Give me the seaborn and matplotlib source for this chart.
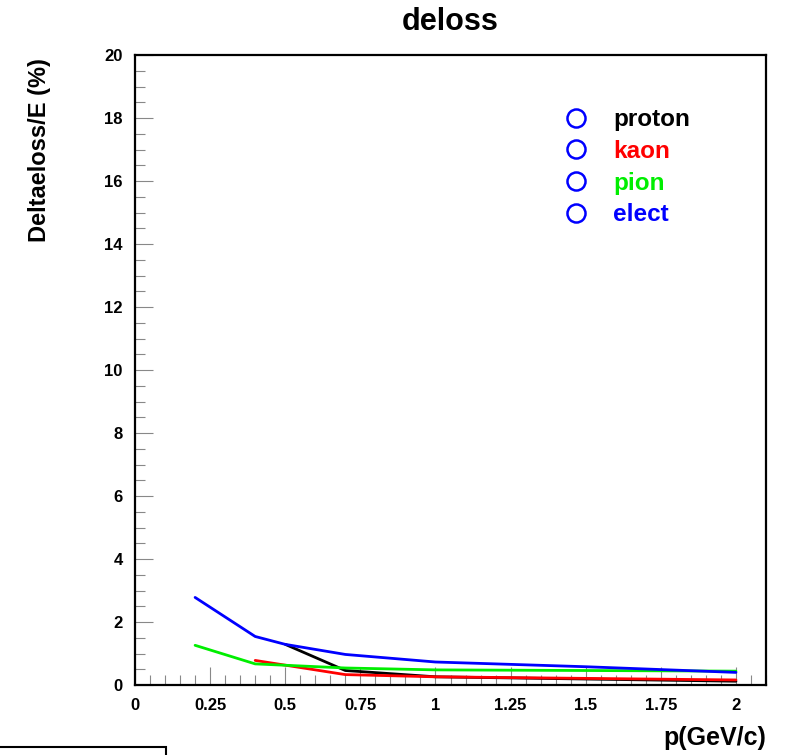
import matplotlib
matplotlib.use("Agg")
import matplotlib.pyplot as plt
from matplotlib.lines import Line2D
from matplotlib.patches import Rectangle
from matplotlib.ticker import MultipleLocator
import seaborn as sns
import pandas as pd

# ---- data ----
proton_p = [0.5, 0.7, 1.0, 2.0]
proton_v = [1.29, 0.46, 0.26, 0.12]
kaon_p = [0.4, 0.7, 1.0, 2.0]
kaon_v = [0.78, 0.33, 0.26, 0.16]
pion_p = [0.2, 0.4, 0.7, 1.0, 2.0]
pion_v = [1.26, 0.67, 0.54, 0.48, 0.44]
elect_p = [0.2, 0.4, 0.5, 0.7, 1.0, 1.5, 2.0]
elect_v = [2.78, 1.54, 1.29, 0.97, 0.73, 0.58, 0.40]
species = ["proton", "kaon", "pion", "elect"]
colors = {"proton": "#000000", "kaon": "#ff0000", "pion": "#00ee00", "elect": "#0000ff"}
xticks = [0, 0.25, 0.5, 0.75, 1, 1.25, 1.5, 1.75, 2]
xticklabels = ["0", "0.25", "0.5", "0.75", "1", "1.25", "1.5", "1.75", "2"]
yticks = [0, 2, 4, 6, 8, 10, 12, 14, 16, 18, 20]

rows = []
for name, ps, vs in [("proton", proton_p, proton_v), ("kaon", kaon_p, kaon_v),
                     ("pion", pion_p, pion_v), ("elect", elect_p, elect_v)]:
    for i, (p, v) in enumerate(zip(ps, vs)):
        rows.append({"p": p, "v": v, "species": name, "order": i})
df = pd.DataFrame(rows)

sns.set_style("ticks")
plt.rcParams["font.family"] = ["Liberation Sans", "DejaVu Sans"]
plt.rcParams["font.weight"] = "bold"
plt.rcParams["text.color"] = "black"
plt.rcParams["axes.labelcolor"] = "black"
plt.rcParams["xtick.labelcolor"] = "black"
plt.rcParams["ytick.labelcolor"] = "black"

fig = plt.figure(figsize=(7.9, 7.55), dpi=100)
ax = fig.add_axes([135/790, 70/755, 631/790, 630/755])

sns.lineplot(data=df, x="p", y="v", hue="species", hue_order=species,
             palette=colors, sort=False, estimator=None, linewidth=2.0,
             legend=False, ax=ax)

ax.set_xlim(0, 2.1)
ax.set_ylim(0, 20)
ax.set_xticks(xticks)
ax.set_xticklabels(xticklabels)
ax.set_yticks(yticks)
ax.xaxis.set_minor_locator(MultipleLocator(0.05))
ax.yaxis.set_minor_locator(MultipleLocator(0.5))
ax.tick_params(axis="both", which="major", direction="in", length=13, width=0.8,
               color="#888888", labelsize=12, pad=9, labelcolor="black")
ax.tick_params(axis="both", which="minor", direction="in", length=7, width=0.8,
               color="#888888")
for lab in ax.get_xticklabels() + ax.get_yticklabels():
    lab.set_fontweight("bold")
for s in ax.spines.values():
    s.set_linewidth(1.6)
    s.set_color("black")
    s.set_visible(True)
ax.set_xlabel("")
ax.set_ylabel("")

fig.text(450/790, 1 - 22/755, "deloss", ha="center", va="center",
         fontsize=22, fontweight="bold")
fig.text(40/790, 1 - 150/755, "Deltaeloss/E (%)", rotation=90, ha="center",
         va="center", fontsize=17, fontweight="bold")
fig.text(766/790, 1 - 738/755, "p(GeV/c)", ha="right", va="center",
         fontsize=18, fontweight="bold")

handles = [Line2D([], [], linestyle="none", marker="o", markersize=13,
                  markerfacecolor="none", markeredgecolor="#0000ff",
                  markeredgewidth=1.8) for _ in species]
leg = ax.legend(handles, species, loc="upper left",
                bbox_to_anchor=(549/790, 1 - 96/755), bbox_transform=fig.transFigure,
                frameon=False, fontsize=17.5, handletextpad=0.95, labelspacing=0.36,
                borderpad=0, handlelength=1.2)
for t, name in zip(leg.get_texts(), species):
    t.set_color(colors[name])
    t.set_fontweight("bold")

box = Rectangle((-0.01, -0.01), 166/790 + 0.01, (755 - 747)/755 + 0.01,
                transform=fig.transFigure, facecolor="white", edgecolor="black",
                linewidth=1.5, clip_on=False)
fig.patches.append(box)

fig.savefig("out.png", dpi=100)
